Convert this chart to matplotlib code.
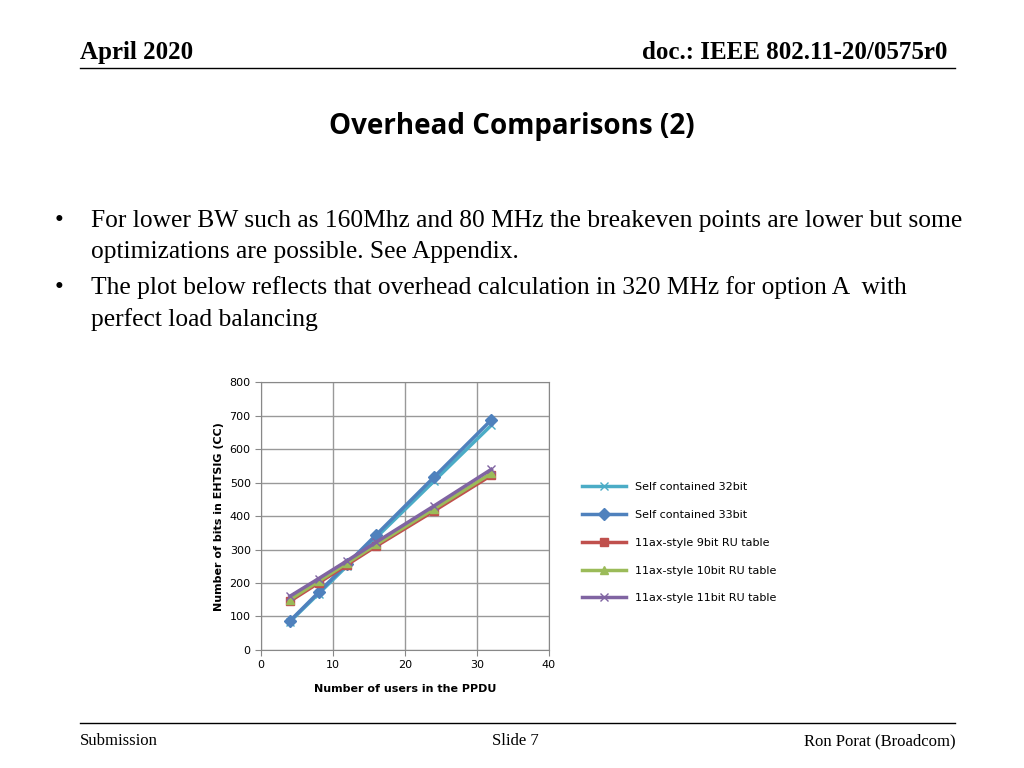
import matplotlib
matplotlib.use("Agg")
import matplotlib.pyplot as plt

users = [4, 8, 12, 16, 24, 32]
self32 = [84, 168, 252, 336, 504, 672]
self33 = [86, 172, 258, 344, 516, 688]
ru9 = [145, 200, 255, 310, 415, 522]
ru10 = [150, 205, 260, 315, 421, 528]
ru11 = [160, 213, 267, 322, 430, 540]

series = [
    ("Self contained 32bit", self32, "#4bacc6", "x"),
    ("Self contained 33bit", self33, "#4f81bd", "D"),
    ("11ax-style 9bit RU table", ru9, "#c0504d", "s"),
    ("11ax-style 10bit RU table", ru10, "#9bbb59", "^"),
    ("11ax-style 11bit RU table", ru11, "#8064a2", "x"),
]

fig = plt.figure(figsize=(10.24, 7.68), dpi=100)
serif = "Liberation Serif"

fig.text(0.078, 0.923, "April 2020", fontsize=18, fontweight="bold", family=serif)
fig.text(0.925, 0.923, "doc.: IEEE 802.11-20/0575r0", fontsize=18, fontweight="bold",
         family=serif, ha="right")
fig.add_artist(plt.Line2D([0.078, 0.933], [0.912, 0.912], color="black", lw=1))
fig.text(0.5, 0.826, "Overhead Comparisons (2)", fontsize=20, fontweight="bold",
         family="Open Sans", ha="center")

bullets = [
    (0.705, "For lower BW such as 160Mhz and 80 MHz the breakeven points are lower but some"),
    (0.664, "optimizations are possible. See Appendix."),
    (0.617, "The plot below reflects that overhead calculation in 320 MHz for option A  with"),
    (0.576, "perfect load balancing"),
]
for i, (y, t) in enumerate(bullets):
    if i in (0, 2):
        fig.text(0.053, y, "•", fontsize=18, family=serif)
    fig.text(0.089, y, t, fontsize=18.4, family=serif)

fig.add_artist(plt.Line2D([0.078, 0.933], [0.058, 0.058], color="black", lw=1))
fig.text(0.078, 0.03, "Submission", fontsize=12, family=serif)
fig.text(0.503, 0.03, "Slide 7", fontsize=12, family=serif, ha="center")
fig.text(0.933, 0.03, "Ron Porat (Broadcom)", fontsize=12, family=serif, ha="right")

ax = fig.add_axes([0.255, 0.154, 0.281, 0.348])
for name, vals, c, m in series:
    ax.plot(users, vals, color=c, marker=m, lw=2.5, ms=6, label=name)
ax.set_xlim(0, 40)
ax.set_ylim(0, 800)
ax.set_xticks(range(0, 41, 10))
ax.set_yticks(range(0, 801, 100))
ax.grid(color="#999999", lw=1)
ax.tick_params(labelsize=8, length=4, color="#888888")
for s in ax.spines.values():
    s.set_color("#888888")
ax.set_xlabel("Number of users in the PPDU", fontsize=8, fontweight="bold", labelpad=10)
ax.set_ylabel("Number of bits in EHTSIG (CC)", fontsize=8, fontweight="bold")
ax.legend(loc="center left", bbox_to_anchor=(1.08, 0.4), frameon=False, fontsize=8,
          handlelength=4, labelspacing=1.6)

plt.savefig("out.png", dpi=100)
